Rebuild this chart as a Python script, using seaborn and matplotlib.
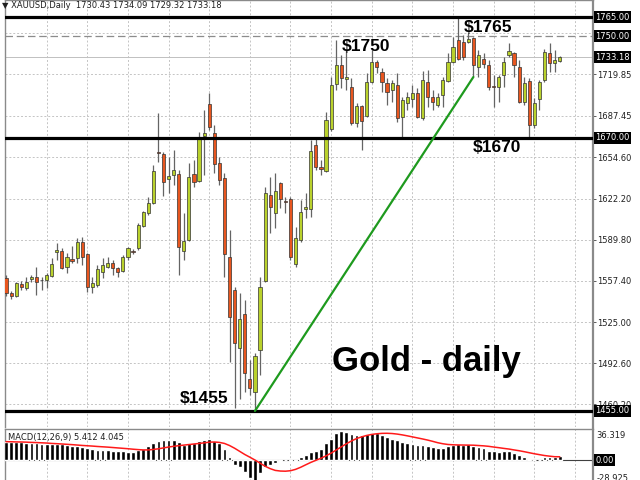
import matplotlib
matplotlib.use('Agg')
import matplotlib.pyplot as plt
import matplotlib.transforms as mtransforms
import seaborn as sns
import numpy as np
import pandas as pd

# daily XAUUSD candles (oldest first)
opens = [1559.7, 1548.0, 1545.5, 1555.0, 1551.8, 1558.9, 1560.5, 1558.3, 1558.1, 1561.2,
         1580.1, 1580.9, 1568.3, 1574.6, 1575.4, 1588.0, 1578.6, 1552.6, 1554.2, 1564.4,
         1568.3, 1571.5, 1567.5, 1565.2, 1576.2, 1580.5, 1583.3, 1600.6, 1610.8, 1618.7,
         1659.0, 1657.2, 1637.6, 1640.7, 1641.5, 1580.9, 1589.6, 1641.5, 1636.0, 1671.4,
         1696.6, 1673.8, 1650.2, 1638.4, 1576.2, 1550.2, 1504.6, 1531.3, 1480.2, 1470.0,
         1503.0, 1557.3, 1625.0, 1610.8, 1634.4, 1619.8, 1621.8, 1570.7, 1589.6, 1614.0,
         1614.0, 1664.3, 1647.0, 1643.9, 1676.9, 1712.3, 1727.3, 1716.2, 1709.9, 1681.6,
         1695.0, 1687.1, 1713.9, 1729.6, 1721.8, 1713.1, 1707.6, 1711.5, 1686.3, 1697.4,
         1700.5, 1705.2, 1685.6, 1713.9, 1702.1, 1695.8, 1703.7, 1714.7, 1729.6, 1746.9,
         1745.4, 1745.4, 1748.5, 1725.7, 1732.0, 1727.3, 1710.7, 1709.9, 1719.4, 1735.1,
         1736.7, 1725.7, 1698.1, 1714.7, 1680.0, 1700.5, 1715.5, 1736.7, 1728.8, 1730.43]
highs = [1562.0, 1549.4, 1556.5, 1557.3, 1560.5, 1562.0, 1568.3, 1560.5, 1563.6, 1575.4,
         1587.2, 1583.3, 1579.4, 1585.0, 1591.1, 1591.9, 1579.4, 1560.5, 1569.9, 1575.4,
         1576.2, 1573.8, 1568.3, 1577.8, 1584.1, 1582.5, 1603.0, 1612.0, 1623.4, 1648.6,
         1689.5, 1658.8, 1654.9, 1660.4, 1644.6, 1610.8, 1650.2, 1652.5, 1674.6, 1691.9,
         1705.2, 1680.0, 1654.9, 1642.3, 1597.4, 1552.6, 1547.9, 1542.4, 1495.2, 1500.7,
         1560.5, 1631.3, 1639.1, 1642.3, 1635.2, 1623.4, 1623.4, 1599.8, 1621.0, 1626.5,
         1668.2, 1669.8, 1652.5, 1690.3, 1717.8, 1746.9, 1735.1, 1739.1, 1717.0, 1697.4,
         1695.8, 1721.0, 1739.1, 1731.2, 1724.9, 1717.0, 1715.5, 1721.0, 1702.1, 1706.0,
         1711.5, 1709.2, 1722.5, 1723.3, 1707.6, 1705.2, 1717.8, 1736.7, 1749.3, 1765.0,
         1750.9, 1752.4, 1749.3, 1739.1, 1736.7, 1731.2, 1719.4, 1719.4, 1733.6, 1744.6,
         1737.5, 1731.2, 1717.8, 1717.0, 1701.3, 1715.5, 1739.8, 1744.6, 1739.1, 1734.09]
lows = [1545.5, 1543.1, 1544.7, 1550.2, 1550.2, 1556.5, 1546.3, 1550.2, 1551.8, 1560.5,
        1573.8, 1566.7, 1563.6, 1571.5, 1571.5, 1569.9, 1548.7, 1547.9, 1552.6, 1559.7,
        1567.5, 1562.0, 1560.5, 1564.4, 1573.8, 1578.6, 1581.7, 1599.8, 1609.2, 1618.0,
        1651.0, 1624.2, 1626.5, 1632.8, 1562.0, 1573.8, 1589.0, 1631.3, 1635.2, 1640.7,
        1676.1, 1642.3, 1632.8, 1560.5, 1493.6, 1457.4, 1464.5, 1470.0, 1467.6, 1455.0,
        1483.3, 1556.5, 1595.1, 1599.0, 1614.7, 1610.8, 1573.8, 1568.3, 1588.0, 1606.9,
        1607.7, 1644.6, 1640.7, 1643.1, 1675.3, 1707.6, 1709.2, 1707.6, 1680.0, 1678.5,
        1660.4, 1686.3, 1713.1, 1721.0, 1706.0, 1695.8, 1698.1, 1682.4, 1670.6, 1691.9,
        1694.2, 1685.6, 1684.0, 1694.2, 1691.9, 1694.2, 1694.2, 1713.9, 1728.8, 1731.2,
        1731.2, 1744.6, 1717.8, 1717.8, 1724.9, 1707.6, 1694.2, 1698.1, 1709.9, 1733.6,
        1717.8, 1697.4, 1695.8, 1669.8, 1677.7, 1691.9, 1713.9, 1721.8, 1721.8, 1729.32]
closes = [1547.9, 1545.5, 1555.7, 1552.6, 1556.5, 1560.5, 1556.5, 1558.0, 1562.0, 1570.7,
          1581.7, 1567.5, 1576.2, 1573.0, 1588.0, 1576.2, 1552.6, 1555.7, 1566.7, 1569.9,
          1571.5, 1567.5, 1564.4, 1576.2, 1583.3, 1580.1, 1601.4, 1611.6, 1618.7, 1643.9,
          1658.0, 1635.2, 1640.0, 1644.6, 1584.1, 1588.8, 1639.1, 1635.2, 1670.6, 1673.8,
          1678.5, 1649.4, 1636.8, 1578.6, 1529.0, 1508.5, 1527.4, 1484.9, 1473.1, 1498.3,
          1552.6, 1626.5, 1615.5, 1628.1, 1621.8, 1619.5, 1576.2, 1591.1, 1611.6, 1615.5,
          1659.6, 1647.0, 1645.4, 1684.0, 1711.5, 1727.3, 1717.0, 1717.8, 1681.6, 1695.0,
          1683.2, 1713.9, 1729.6, 1725.7, 1713.9, 1706.0, 1713.1, 1685.6, 1699.7, 1702.1,
          1705.2, 1686.3, 1715.5, 1702.1, 1698.1, 1702.1, 1715.5, 1729.6, 1741.4, 1732.0,
          1733.6, 1747.7, 1727.3, 1735.1, 1728.0, 1709.9, 1709.9, 1717.8, 1729.6, 1738.3,
          1727.3, 1698.1, 1713.1, 1680.0, 1697.4, 1713.9, 1737.5, 1728.8, 1731.2, 1733.18]

# MACD(12,26,9): main line (histogram) and signal line
macd_main = [22.9, 22.9, 22.6, 22.3, 21.6, 21.2, 20.7, 20.4, 20.1, 19.9,
             20.3, 19.4, 19.0, 18.1, 17.3, 16.4, 14.7, 13.4, 13.0, 12.5,
             12.1, 11.7, 11.1, 10.8, 10.4, 10.4, 12.5, 14.3, 17.3, 21.2,
             23.8, 24.6, 25.1, 25.5, 22.9, 19.0, 20.7, 21.2, 23.3, 25.1,
             26.4, 24.2, 20.7, 13.8, 3.5, -6.0, -8.6, -14.7, -22.5, -28.9,
             -16.4, -8.6, -6.0, -3.5, -1.3, 0.2, -1.7, -0.9, 3.5, 6.0,
             10.4, 11.7, 13.3, 20.7, 25.9, 33.5, 36.3, 35.0, 32.8, 31.2,
             31.1, 32.5, 34.1, 33.3, 31.1, 29.2, 26.8, 25.1, 22.9, 21.6,
             19.9, 18.7, 18.7, 17.3, 16.7, 14.7, 15.6, 17.3, 18.7, 19.6,
             18.7, 19.6, 17.3, 16.7, 14.7, 11.7, 11.2, 10.4, 11.2, 11.2,
             8.3, 6.2, 4.1, 1.3, 0.3, 0.4, 3.4, 3.4, 4.1, 5.412]
macd_signal = [22.9, 22.8, 22.6, 22.5, 22.3, 22.0, 21.8, 21.5, 21.2, 20.7,
               20.4, 20.0, 19.6, 19.2, 18.7, 18.2, 17.8, 17.4, 16.9, 16.5,
               16.1, 15.6, 15.1, 14.6, 14.1, 13.5, 13.0, 12.6, 12.6, 13.2,
               14.0, 15.1, 16.2, 17.1, 17.9, 18.6, 19.3, 20.0, 20.7, 21.4,
               22.3, 22.5, 22.0, 20.7, 18.1, 14.7, 10.8, 6.9, 3.5, 0.0,
               -3.9, -7.8, -10.8, -13.0, -13.8, -14.0, -13.4, -11.7, -9.1, -6.0,
               -3.0, -0.4, 2.2, 5.2, 8.6, 12.5, 16.4, 20.3, 23.8, 26.8,
               28.9, 30.7, 32.0, 32.8, 33.3, 33.4, 33.1, 32.4, 31.4, 30.2,
               28.9, 27.6, 26.3, 24.9, 23.3, 21.6, 20.3, 19.4, 19.0, 18.8,
               18.7, 18.6, 18.5, 18.1, 17.7, 17.1, 16.2, 15.4, 14.5, 13.7,
               12.6, 11.6, 10.4, 9.1, 7.8, 6.7, 5.6, 4.8, 4.1, 4.045]

price_ticks = [1460.20, 1492.60, 1525.00, 1557.40, 1589.80, 1622.20,
               1654.60, 1687.45, 1719.85, 1752.25]
support_levels = [1765.00, 1670.00, 1455.00]
dashed_level = 1750.00
last_price = 1733.18
boxed_prices = [1765.00, 1750.00, 1733.18, 1670.00, 1455.00]
macd_labels = [36.319, 0.00, -28.925]
trend_start, trend_end = 49, 92   # candles whose lows the trend line joins

header = '\u25bc XAUUSD,Daily  1730.43 1734.09 1729.32 1733.18'
macd_title = 'MACD(12,26,9) 5.412 4.045'

BULL = '#b9d12c'
BEAR = '#e8561f'
GRID = '#c4c4c4'

sns.set_style('white')
plt.rcParams['font.family'] = ['DejaVu Sans']

df = pd.DataFrame({'open': opens, 'high': highs, 'low': lows, 'close': closes,
                   'main': macd_main, 'signal': macd_signal})
df['idx'] = np.arange(len(df))
df['bull'] = df['close'] >= df['open']

W, H = 640, 480
fig = plt.figure(figsize=(6.4, 4.8), dpi=100)
ax = fig.add_axes([5 / W, 1 - 427 / H, 588 / W, 427 / H])
ax_m = fig.add_axes([5 / W, 1 - 483 / H, 588 / W, 54 / H])

xlim = (-0.2, 115.55)

# --- price panel ---
for x in range(8, 116, 8):
    ax.axvline(x, color=GRID, ls=(0, (2, 2)), lw=0.7, zorder=1)
for p in price_ticks:
    ax.axhline(p, color=GRID, ls=(0, (2, 2)), lw=0.7, zorder=1)

ax.axhline(last_price, color='#c0c0c0', lw=0.7, zorder=2)
ax.axhline(dashed_level, color='#8c8c8c', ls=(0, (6, 3)), lw=0.9, zorder=2)

ax.vlines(df['idx'], df['low'], df['high'], color='#646464', lw=0.9, zorder=3)
body_low = np.minimum(df['open'], df['close'])
body_h = np.maximum((df['close'] - df['open']).abs(), 0.4)
ax.bar(df['idx'], body_h, bottom=body_low, width=0.62,
       color=np.where(df['bull'], BULL, BEAR), edgecolor='#333333',
       linewidth=0.5, zorder=4)

for lvl in support_levels:
    ax.axhline(lvl, color='black', lw=2.3, zorder=5)

ax.plot([trend_start, trend_end], [lows[trend_start], lows[trend_end]],
        color='#1e9a1e', lw=1.6, zorder=6)

bold = dict(fontweight='bold', family=['Liberation Sans', 'DejaVu Sans'], color='black', zorder=7)
ax.text(70.9, 1742.2, '\\$1750', fontsize=12.5, ha='center', va='center', **bold)
ax.text(94.9, 1756.8, '\\$1765', fontsize=12.5, ha='center', va='center', **bold)
ax.text(96.6, 1662.0, '\\$1670', fontsize=12.5, ha='center', va='center', **bold)
ax.text(38.9, 1464.9, '\\$1455', fontsize=12.5, ha='center', va='center', **bold)
ax.text(82.7, 1486.5, 'Gold - daily', fontsize=25, ha='center', va='baseline', **bold)

ax.set_xlim(*xlim)
ax.set_ylim(1442.4, 1778.4)
ax.set_xticks([])
ax.yaxis.tick_right()
ax.set_yticks(price_ticks)
ax.set_yticklabels([f'{p:.2f}' for p in price_ticks])
ax.tick_params(axis='y', length=2.2, width=0.6, pad=1, labelsize=6,
               color='#404040', labelcolor='#202020')

trans = mtransforms.blended_transform_factory(ax.transAxes, ax.transData)
for p in boxed_prices:
    ax.text(1.004, p, f'{p:.2f}', transform=trans, color='white', fontsize=6,
            va='center', ha='left', clip_on=False, zorder=10,
            bbox=dict(boxstyle='square,pad=0.18', fc='black', ec='none'))

for side, sp in ax.spines.items():
    sp.set_color('#8a8a8a')
    sp.set_linewidth(1.0)
ax.spines['right'].set_linewidth(1.6)
ax.spines['bottom'].set_visible(False)

# --- MACD panel ---
for x in range(8, 116, 8):
    ax_m.axvline(x, color=GRID, ls=(0, (2, 2)), lw=0.7, zorder=1)
sns.barplot(data=df, x='idx', y='main', native_scale=True, color='black',
            saturation=1, width=0.75, errorbar=None, ax=ax_m, zorder=3)
ax_m.axhline(0, color='#404040', lw=0.8, zorder=2)
sns.lineplot(data=df, x='idx', y='signal', color='#ff1a1a', lw=1.1, ax=ax_m, zorder=4)

ax_m.set_xlim(*xlim)
ax_m.set_ylim(-28.75, 38.75)
ax_m.set_xticks([])
ax_m.set_yticks([])
ax_m.set_xlabel('')
ax_m.set_ylabel('')
for side, sp in ax_m.spines.items():
    sp.set_color('#8a8a8a')
    sp.set_linewidth(1.0)
ax_m.spines['right'].set_linewidth(1.6)

trans_m = mtransforms.blended_transform_factory(ax_m.transAxes, ax_m.transData)
ax_m.text(1.006, macd_labels[0], f'{macd_labels[0]:.3f}', transform=trans_m,
          fontsize=6, va='top', ha='left', clip_on=False, color='#202020')
ax_m.text(1.004, macd_labels[1], f'{macd_labels[1]:.2f}', transform=trans_m,
          fontsize=6, va='center', ha='left', clip_on=False, color='white',
          bbox=dict(boxstyle='square,pad=0.18', fc='black', ec='none'))
ax_m.text(1.006, -28.75, f'{macd_labels[2]:.3f}', transform=trans_m,
          fontsize=6, va='bottom', ha='left', clip_on=False, color='#202020')
ax_m.text(0.005, 0.85, macd_title, transform=ax_m.transAxes, fontsize=6,
          va='center', ha='left', color='#202020')

fig.text(2 / W, 1 - 5 / H, header, fontsize=6, va='center', ha='left', color='#202020')

fig.savefig('out.png', dpi=100, facecolor='white')
